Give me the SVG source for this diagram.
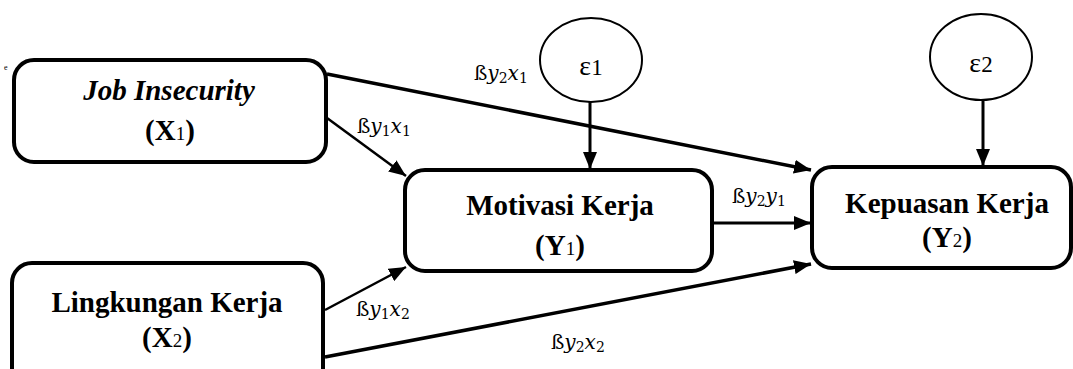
<svg xmlns="http://www.w3.org/2000/svg" width="1073" height="369" viewBox="0 0 1073 369">
<style>
.box{fill:#fff;stroke:#000;stroke-width:4}
.err{fill:#fff;stroke:#000;stroke-width:2}
.t{font-family:'Liberation Serif','DejaVu Serif',serif;font-weight:bold;font-size:29px;text-anchor:middle;fill:#000}
.sub{font-size:19px;font-weight:normal}
.lbl{font-family:'DejaVu Serif','Liberation Serif',serif;font-size:20px;fill:#000}
.eps{font-family:'Liberation Serif','DejaVu Serif',serif;font-size:28px;text-anchor:middle;fill:#000}
.c{stroke:#000;fill:none;stroke-width:3}
</style>
<defs>
<marker id="ah" markerUnits="userSpaceOnUse" markerWidth="17" markerHeight="14" refX="17" refY="7" orient="auto">
<path d="M0,0 L17,7 L0,14 z" fill="#000"/>
</marker>
</defs>
<text x="4" y="70" font-family="'Liberation Serif',serif" font-size="8">e</text>
<g id="connectors">
<line class="c" x1="327" y1="74" x2="811" y2="170" marker-end="url(#ah)" style="stroke-width:3.5"/>
<line class="c" x1="327" y1="118" x2="406" y2="176" marker-end="url(#ah)" style="stroke-width:2.5"/>
<line class="c" x1="325" y1="310" x2="406" y2="267" marker-end="url(#ah)" style="stroke-width:2.5"/>
<line class="c" x1="325" y1="357" x2="811" y2="264" marker-end="url(#ah)" style="stroke-width:3.5"/>
<line class="c" x1="712" y1="223" x2="811" y2="223" marker-end="url(#ah)"/>
<line class="c" x1="590" y1="102" x2="590" y2="169" marker-end="url(#ah)"/>
<line class="c" x1="983" y1="100" x2="983" y2="166" marker-end="url(#ah)"/>
<text class="lbl" x="474" y="80">ß<tspan font-style="italic">y</tspan><tspan font-size="14" dy="3">2</tspan><tspan font-style="italic" dy="-3">x</tspan><tspan font-size="14" dy="3">1</tspan></text>
<text class="lbl" x="357" y="133">ß<tspan font-style="italic">y</tspan><tspan font-size="14" dy="3">1</tspan><tspan font-style="italic" dy="-3">x</tspan><tspan font-size="14" dy="3">1</tspan></text>
<text class="lbl" x="356" y="316">ß<tspan font-style="italic">y</tspan><tspan font-size="14" dy="3">1</tspan><tspan font-style="italic" dy="-3">x</tspan><tspan font-size="14" dy="3">2</tspan></text>
<text class="lbl" x="551" y="349">ß<tspan font-style="italic">y</tspan><tspan font-size="14" dy="3">2</tspan><tspan font-style="italic" dy="-3">x</tspan><tspan font-size="14" dy="3">2</tspan></text>
<text class="lbl" x="732" y="203">ß<tspan font-style="italic">y</tspan><tspan font-size="14" dy="3">2</tspan><tspan font-style="italic" dy="-3">y</tspan><tspan font-size="14" dy="3">1</tspan></text>
</g>
<g id="X1">
<rect class="box" x="14" y="60" width="312" height="102" rx="20"/>
<text class="t" x="169" y="100" font-style="italic">Job Insecurity</text>
<text class="t" x="170" y="140">(X<tspan class="sub">1</tspan>)</text>
</g>
<g id="X2">
<rect class="box" x="12" y="263" width="311" height="130" rx="20"/>
<text class="t" x="167" y="312">Lingkungan Kerja</text>
<text class="t" x="167" y="347">(X<tspan class="sub">2</tspan>)</text>
</g>
<g id="Y1">
<rect class="box" x="405" y="170" width="307" height="101" rx="20"/>
<text class="t" x="560" y="215">Motivasi Kerja</text>
<text class="t" x="560" y="255">(Y<tspan class="sub">1</tspan>)</text>
</g>
<g id="Y2">
<rect class="box" x="812" y="167" width="259" height="101" rx="20"/>
<text class="t" x="947" y="213">Kepuasan Kerja</text>
<text class="t" x="947" y="247">(Y<tspan class="sub">2</tspan>)</text>
</g>
<g id="e1">
<ellipse class="err" cx="591" cy="60" rx="51" ry="42"/>
<text class="eps" x="591" y="75">ε<tspan font-size="23">1</tspan></text>
</g>
<g id="e2">
<ellipse class="err" cx="981" cy="57" rx="51" ry="43"/>
<text class="eps" x="981" y="72">ε<tspan font-size="23">2</tspan></text>
</g>
</svg>
